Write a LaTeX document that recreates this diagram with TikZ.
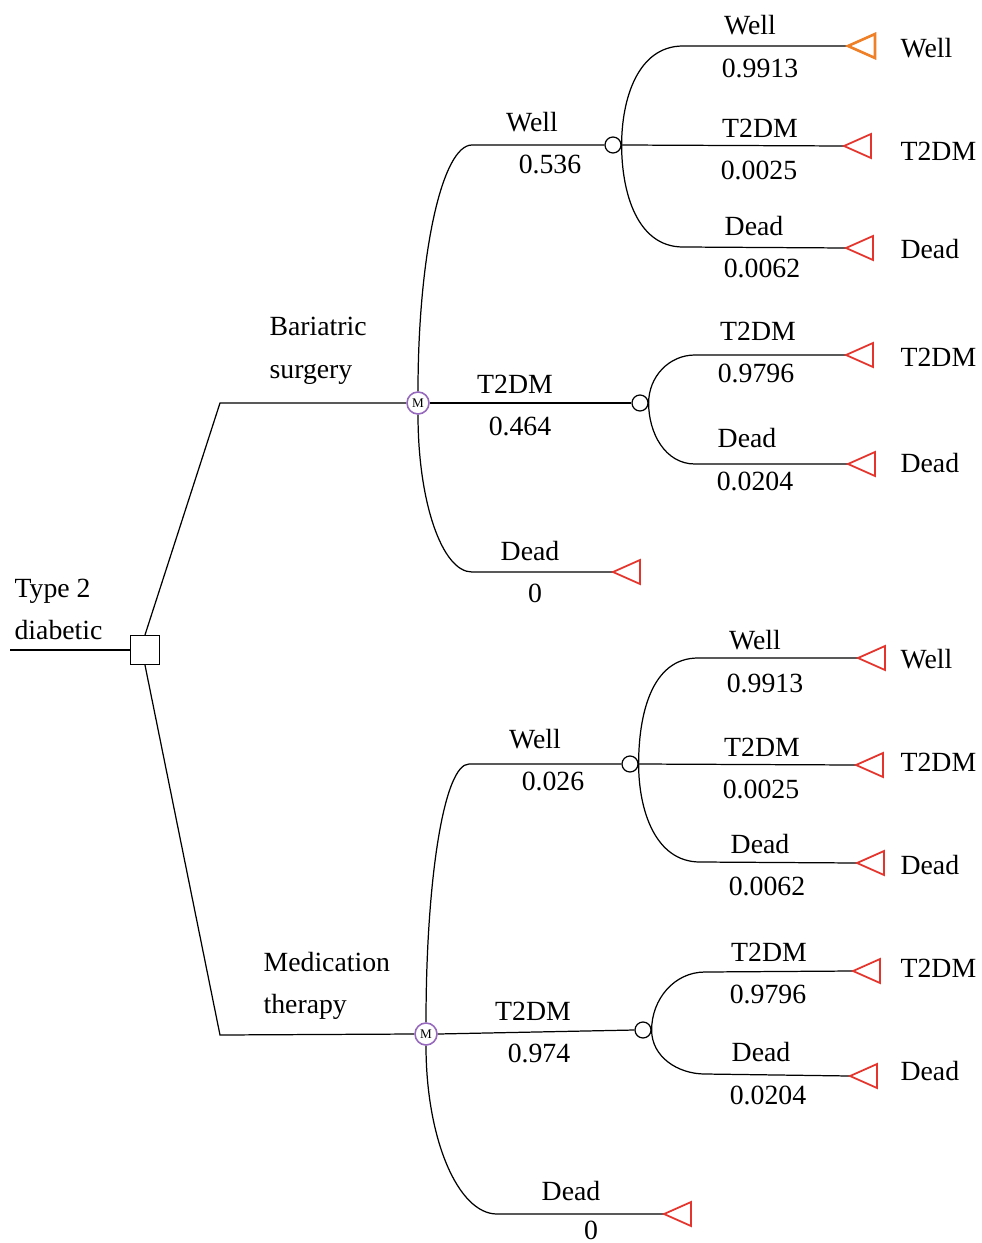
\documentclass[tikz,border=0pt]{standalone}
\usepackage{fontspec}
\setmainfont{Liberation Serif}
\usetikzlibrary{arrows}
\definecolor{tred}{RGB}{228,52,44}
\definecolor{torange}{RGB}{240,128,40}
\definecolor{mpurple}{RGB}{150,105,190}
\tikzset{
  lbl/.style={inner sep=0pt, font=\fontsize{15.8}{19}\selectfont},
  decision/.style={rectangle, draw, minimum size=0.58cm, inner sep=0pt, fill=white},
  chance/.style={circle, draw, minimum size=0.32cm, inner sep=0pt, fill=white},
  markov/.style={circle, draw=mpurple, line width=0.9pt, minimum size=0.44cm, inner sep=0pt, fill=white, font=\fontsize{7.5}{8}\selectfont},
  pics/term/.style 2 args={code={\draw[draw=#1, line width=#2] (0,0) -- (27,12) -- (27,-12) -- cycle;}}
}

\begin{document}
\begin{tikzpicture}[x=0.02cm, y=0.02cm, line width=0.7pt]
\useasboundingbox (0,0) rectangle (981,-1243);
% root
\coordinate (root) at (10,-650);
\node[decision] (dec) at (145,-650) {};
\draw (root) -- (dec.west);
\node[lbl, anchor=base west] (type) at (14,-597) {Type 2};
\node[lbl, anchor=base west] (diab) at (14,-639) {diabetic};

% bariatric surgery
\coordinate (bs) at (220,-403);
\node[markov] (m1) at (418,-403) {M};
\draw (dec.north) -- (bs) -- (m1.west);
\node[lbl, anchor=base west] (bar) at (269,-336) {Bariatric};
\node[lbl, anchor=base west] (sur) at (269,-378) {surgery};

\node[chance] (c1) at (613,-145) {};
\node[chance] (c2) at (640,-403) {};
\coordinate (b1w) at (472,-145);
\coordinate (b1d) at (472,-572);
\coordinate (e1d) at (613,-572);
\draw (m1.north) to[out=90, in=180, out distance=2.72cm, in distance=0.6cm] (b1w) -- (c1.west);
\draw (m1.east) -- (c2.west);
\draw (m1.south) to[out=-90, in=180, out distance=1.74cm, in distance=0.6cm] (b1d) -- (e1d);
\pic at (e1d) {term={tred}{1pt}};
\node[lbl] (ws1) at (532,-122) {Well};
\node[lbl] (ps1) at (550,-164) {0.536};
\node[lbl] (ts1) at (515,-384) {T2DM};
\node[lbl] (pt1) at (520,-426) {0.464};
\node[lbl] (ds1) at (530,-551) {Dead};
\node[lbl] (pd1) at (535,-593) {0};

% well after surgery
\coordinate (b11) at (683,-46);
\coordinate (b13) at (683,-247);
\coordinate (e11) at (848,-46);
\coordinate (e12) at (844,-146);
\coordinate (e13) at (846,-248);
\draw (c1.east) to[out=90, in=180] (b11) -- (e11);
\draw (c1.east) -- (e12);
\draw (c1.east) to[out=-90, in=180] (b13) -- (e13);
\pic at (e11) {term={torange}{1.5pt}};
\pic at (e12) {term={tred}{1pt}};
\pic at (e13) {term={tred}{1pt}};
\node[lbl] (w11) at (750,-25) {Well};
\node[lbl] (p11) at (760,-68) {0.9913};
\node[lbl] (w12) at (760,-128) {T2DM};
\node[lbl] (p12) at (759,-170) {0.0025};
\node[lbl] (w13) at (754,-226) {Dead};
\node[lbl] (p13) at (762,-268) {0.0062};
\node[lbl, anchor=west] (n11) at (900,-48) {Well};
\node[lbl, anchor=west] (n12) at (900,-151) {T2DM};
\node[lbl, anchor=west] (n13) at (900,-249) {Dead};

% t2dm after surgery
\coordinate (b21) at (695,-355);
\coordinate (b22) at (695,-464);
\coordinate (e21) at (846,-355);
\coordinate (e22) at (848,-464);
\draw (c2.east) to[out=90, in=180] (b21) -- (e21);
\draw (c2.east) to[out=-90, in=180] (b22) -- (e22);
\pic at (e21) {term={tred}{1pt}};
\pic at (e22) {term={tred}{1pt}};
\node[lbl] (w21) at (758,-331) {T2DM};
\node[lbl] (p21) at (756,-373) {0.9796};
\node[lbl] (w22) at (747,-438) {Dead};
\node[lbl] (p22) at (755,-481) {0.0204};
\node[lbl, anchor=west] (n21) at (900,-357) {T2DM};
\node[lbl, anchor=west] (n22) at (900,-463) {Dead};

% medication therapy
\coordinate (mt) at (220,-1035);
\node[markov] (m2) at (426,-1034) {M};
\draw (dec.south) -- (mt) -- (m2.west);
\node[lbl, anchor=base west] (med) at (263,-971) {Medication};
\node[lbl, anchor=base west] (the) at (263,-1013) {therapy};

\node[chance] (c3) at (630,-764) {};
\node[chance] (c4) at (643,-1030) {};
\coordinate (b2w) at (469,-764);
\coordinate (b2d) at (497,-1214);
\coordinate (e2d) at (664,-1214);
\draw (m2.north) to[out=90, in=180, out distance=2.85cm, in distance=0.5cm] (b2w) -- (c3.west);
\draw (m2.east) -- (c4.west);
\draw (m2.south) to[out=-90, in=180, out distance=1.86cm, in distance=0.78cm] (b2d) -- (e2d);
\pic at (e2d) {term={tred}{1pt}};
\node[lbl] (ws2) at (535,-739) {Well};
\node[lbl] (ps2) at (553,-781) {0.026};
\node[lbl] (ts2) at (533,-1011) {T2DM};
\node[lbl] (pt2) at (539,-1053) {0.974};
\node[lbl] (ds2) at (571,-1191) {Dead};
\node[lbl] (pd2) at (591,-1230) {0};

% well after medication
\coordinate (b31) at (698,-658);
\coordinate (b33) at (700,-862);
\coordinate (e31) at (858,-658);
\coordinate (e32) at (856,-765);
\coordinate (e33) at (857,-863);
\draw (c3.east) to[out=90, in=180] (b31) -- (e31);
\draw (c3.east) -- (e32);
\draw (c3.east) to[out=-90, in=180] (b33) -- (e33);
\pic at (e31) {term={tred}{1pt}};
\pic at (e32) {term={tred}{1pt}};
\pic at (e33) {term={tred}{1pt}};
\node[lbl] (w31) at (755,-640) {Well};
\node[lbl] (p31) at (765,-683) {0.9913};
\node[lbl] (w32) at (762,-747) {T2DM};
\node[lbl] (p32) at (761,-789) {0.0025};
\node[lbl] (w33) at (760,-844) {Dead};
\node[lbl] (p33) at (767,-886) {0.0062};
\node[lbl, anchor=west] (n31) at (900,-659) {Well};
\node[lbl, anchor=west] (n32) at (900,-762) {T2DM};
\node[lbl, anchor=west] (n33) at (900,-865) {Dead};

% t2dm after medication
\coordinate (b41) at (705,-972);
\coordinate (b42) at (705,-1074);
\coordinate (e41) at (853,-971);
\coordinate (e42) at (850,-1076);
\draw (c4.east) to[out=90, in=180] (b41) -- (e41);
\draw (c4.east) to[out=-90, in=180] (b42) -- (e42);
\pic at (e41) {term={tred}{1pt}};
\pic at (e42) {term={tred}{1pt}};
\node[lbl] (w41) at (769,-952) {T2DM};
\node[lbl] (p41) at (768,-994) {0.9796};
\node[lbl] (w42) at (761,-1052) {Dead};
\node[lbl] (p42) at (768,-1095) {0.0204};
\node[lbl, anchor=west] (n41) at (900,-968) {T2DM};
\node[lbl, anchor=west] (n42) at (900,-1071) {Dead};
\end{tikzpicture}
\end{document}
